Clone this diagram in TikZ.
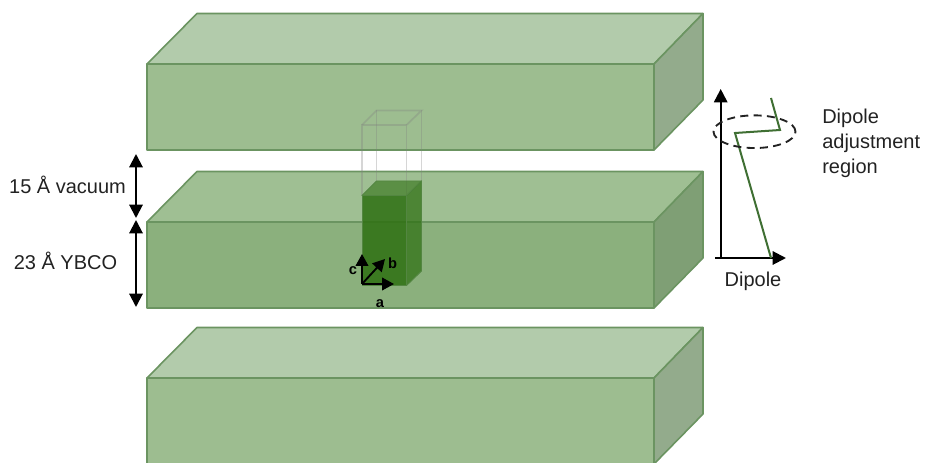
\documentclass[tikz,border=0pt]{standalone}
\usepackage{fontspec}
\setmainfont{Liberation Sans}
\usetikzlibrary{arrows.meta, shapes.geometric}
\definecolor{edgegreen}{HTML}{6B9461}
\definecolor{cellgreen}{HTML}{2E7012}
\definecolor{profilegreen}{HTML}{3F6F33}
\definecolor{inkgray}{HTML}{222222}

\begin{document}
\begin{tikzpicture}[
  x=0.75pt, y=-0.75pt,
  face/.style={draw=edgegreen, line width=1.2pt, line join=round},
  cell/.style={draw=edgegreen!60!cellgreen, line width=0.7pt, line join=round, fill=cellgreen},
  ghost/.style={draw=gray, line width=1.3pt, opacity=0.32},
  arr/.style={{Triangle[length=10pt,width=10pt]}-{Triangle[length=10pt,width=10pt]}, line width=1.5pt},
  axis/.style={-{Triangle[length=10pt,width=10pt]}, line width=1.5pt},
  tiny axis/.style={-{Triangle[length=9pt,width=9.5pt]}, line width=1.4pt},
  lbl/.style={font=\fontsize{15}{18.75}\selectfont, text=inkgray, inner sep=0pt},
  small lbl/.style={font=\fontsize{11}{12}\selectfont\bfseries, text=black, inner sep=0pt},
]
  \clip (0,0) rectangle (925,463);

  % the three slabs
  \foreach \y/\front/\top/\side in {64/9DBD90/B2CBAB/93AB8C, 222/8BB07D/9FBF93/7F9F75, 378/9DBD90/B2CBAB/93AB8C} {
    \definecolor{cfront}{HTML}{\front}
    \definecolor{ctop}{HTML}{\top}
    \definecolor{cside}{HTML}{\side}
    \draw[face, fill=ctop]   (147,\y) -- (197,\y-50.5) -- (703,\y-50.5) -- (654,\y) -- cycle;
    \draw[face, fill=cside]  (654,\y) -- (703,\y-50.5) -- (703,\y+36) -- (654,\y+86) -- cycle;
    \draw[face, fill=cfront] (147,\y) rectangle (654,\y+86);
  }

  % empty unit cell above the filled one
  \draw[ghost] (362,125) rectangle (406.5,195.5);
  \draw[ghost] (362,125) -- (376.5,110.5) -- (421.5,110.5) -- (406.5,125);
  \draw[ghost] (376.5,110.5) -- (376.5,181);
  \draw[ghost] (421.5,110.5) -- (421.5,181);

  % filled unit cell
  \draw[cell, fill opacity=0.6]  (362,195.5) -- (376.5,181) -- (421.5,181) -- (406.5,195.5) -- cycle;
  \draw[cell, fill opacity=0.72] (406.5,195.5) -- (421.5,181) -- (421.5,271) -- (406.5,285.5) -- cycle;
  \draw[cell, fill opacity=0.85] (362,195.5) rectangle (406.5,285.5);

  % crystal axes
  \coordinate (origin) at (362,284);
  \coordinate (aend) at (394,284);
  \coordinate (bend) at (385,259);
  \coordinate (cend) at (362,254);
  \draw[tiny axis] (origin) -- (aend);
  \draw[tiny axis] (origin) -- (bend);
  \draw[tiny axis] (origin) -- (cend);
  \node[small lbl] (alabel) at (380,303.5) {a};
  \node[small lbl] (blabel) at (392.5,263) {b};
  \node[small lbl] (clabel) at (353,270.5) {c};

  % thickness arrows
  \coordinate (vactop) at (136,154);
  \coordinate (vacbot) at (136,218);
  \coordinate (ybcotop) at (136,220);
  \coordinate (ybcobot) at (136,307);
  \draw[arr] (vactop) -- (vacbot);
  \draw[arr] (ybcotop) -- (ybcobot);
  \node[lbl] (vaclabel) at (67.5,185) {15 Å vacuum};
  \node[lbl] (ybcolabel) at (65.5,261) {23 Å YBCO};

  % dipole profile
  \coordinate (yfoot) at (720.7,258);
  \coordinate (ytip) at (720.7,89);
  \coordinate (xfoot) at (715,258);
  \coordinate (xtip) at (786,258);
  \draw[axis] (yfoot) -- (ytip);
  \draw[axis] (xfoot) -- (xtip);
  \draw[profilegreen, line width=1.5pt] (771,98) -- (780,130) -- (735,133) -- (771,258);
  \node[draw=inkgray, dash pattern=on 6pt off 4pt, ellipse, line width=1.4pt, minimum width=61.5pt, minimum height=24.5pt, inner sep=0pt] (region) at (754.5,131.7) {};
  \node[lbl] (dipole) at (753,281) {Dipole};
  \node[lbl, anchor=west, align=left] (regionlabel) at (822,143.5) {Dipole\\adjustment\\region};
\end{tikzpicture}
\end{document}
